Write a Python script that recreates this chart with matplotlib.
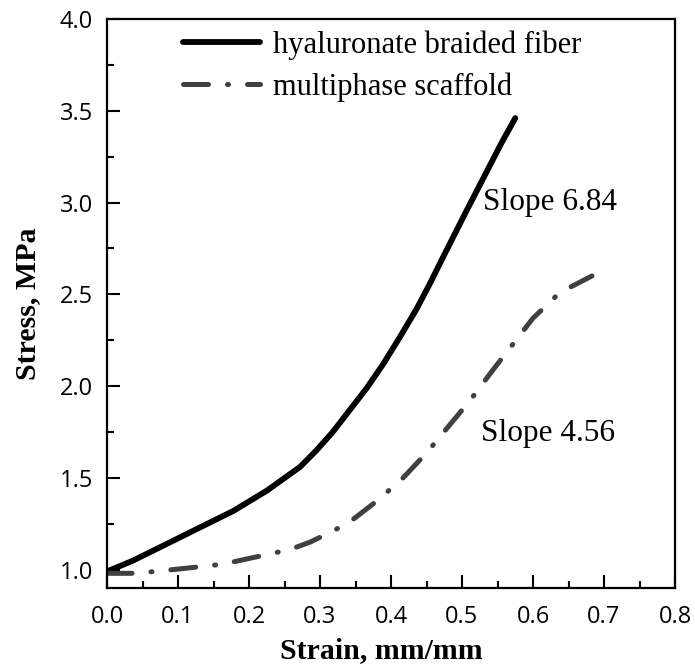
import matplotlib
matplotlib.use("Agg")
import matplotlib.pyplot as plt
from matplotlib.ticker import MultipleLocator

# Data
fiber_strain = [0.0, 0.037, 0.084, 0.131, 0.178, 0.225, 0.272, 0.295, 0.318, 0.340,
                0.366, 0.389, 0.413, 0.436, 0.455, 0.473, 0.490, 0.507, 0.535, 0.555, 0.575]
fiber_stress = [0.99, 1.05, 1.14, 1.23, 1.32, 1.43, 1.56, 1.65, 1.75, 1.86,
                1.99, 2.12, 2.27, 2.42, 2.56, 2.70, 2.83, 2.96, 3.17, 3.32, 3.46]

scaffold_strain = [0.0, 0.037, 0.068, 0.117, 0.163, 0.211, 0.258, 0.286, 0.318, 0.342,
                   0.382, 0.417, 0.451, 0.483, 0.511, 0.542, 0.568, 0.600, 0.638, 0.683]
scaffold_stress = [0.98, 0.98, 0.99, 1.01, 1.03, 1.07, 1.11, 1.15, 1.21, 1.26,
                   1.38, 1.50, 1.64, 1.79, 1.92, 2.08, 2.21, 2.37, 2.51, 2.60]

labels = ["hyaluronate braided fiber", "multiphase scaffold"]
annotations = ["Slope 6.84", "Slope 4.56"]
x_ticks = [0.0, 0.1, 0.2, 0.3, 0.4, 0.5, 0.6, 0.7, 0.8]
y_ticks = [1.0, 1.5, 2.0, 2.5, 3.0, 3.5, 4.0]

W, H = 695, 670
fig = plt.figure(figsize=(W / 100, H / 100), dpi=100)
ax = fig.add_axes([107 / W, 1 - 588 / H, (675 - 107) / W, (588 - 19) / H])

ax.plot(fiber_strain, fiber_stress, color="black", lw=4.2, label=labels[0],
        solid_capstyle="round", solid_joinstyle="round")
ax.plot(scaffold_strain, scaffold_stress, color="#404040", lw=3.6, label=labels[1],
        linestyle=(0, (5, 3.8, 0.2, 3.8)), dash_capstyle="round")

ax.set_xlim(0, 0.8)
ax.set_ylim(0.9, 4.0)
ax.set_xticks(x_ticks)
ax.set_yticks(y_ticks)
ax.set_xticklabels([f"{v:.1f}" for v in x_ticks])
ax.set_yticklabels([f"{v:.1f}" for v in y_ticks])
ax.xaxis.set_minor_locator(MultipleLocator(0.05))
ax.yaxis.set_minor_locator(MultipleLocator(0.25))
ax.tick_params(which="both", direction="in", top=False, right=False, width=1.5)
ax.tick_params(which="major", length=9.4, labelsize=17)
ax.tick_params(axis="x", which="major", pad=12)
ax.tick_params(axis="y", which="major", pad=10)
ax.tick_params(which="minor", length=5)
for lab in ax.get_xticklabels() + ax.get_yticklabels():
    lab.set_fontfamily("Open Sans")
for s in ax.spines.values():
    s.set_linewidth(1.6)

ax.set_xlabel("Strain, mm/mm", fontfamily="Liberation Serif", fontweight="bold",
              fontsize=21.5)
ax.set_ylabel("Stress, MPa", fontfamily="Liberation Serif", fontweight="bold",
              fontsize=21.5)
ax.xaxis.set_label_coords((381 - 107) / (675 - 107), -(664 - 588) / (588 - 19),
                          transform=ax.transAxes)
ax.yaxis.set_label_coords(-(107 - 14) / (675 - 107), 0.5, transform=ax.transAxes)
ax.xaxis.label.set_va("bottom")
ax.yaxis.label.set_va("top")

leg = ax.legend(loc="upper left", bbox_to_anchor=(171 / W, 1 - 18 / H),
                bbox_transform=fig.transFigure, borderaxespad=0, frameon=False,
                prop={"family": "Liberation Serif", "size": 22},
                handlelength=2.5, handletextpad=0.45, labelspacing=0.42)

ax.text(0.530, 2.957, annotations[0], fontfamily="Liberation Serif", fontsize=22.5,
        va="baseline", ha="left")
ax.text(0.527, 1.70, annotations[1], fontfamily="Liberation Serif", fontsize=22.5,
        va="baseline", ha="left")

fig.savefig("out.png", dpi=100)
